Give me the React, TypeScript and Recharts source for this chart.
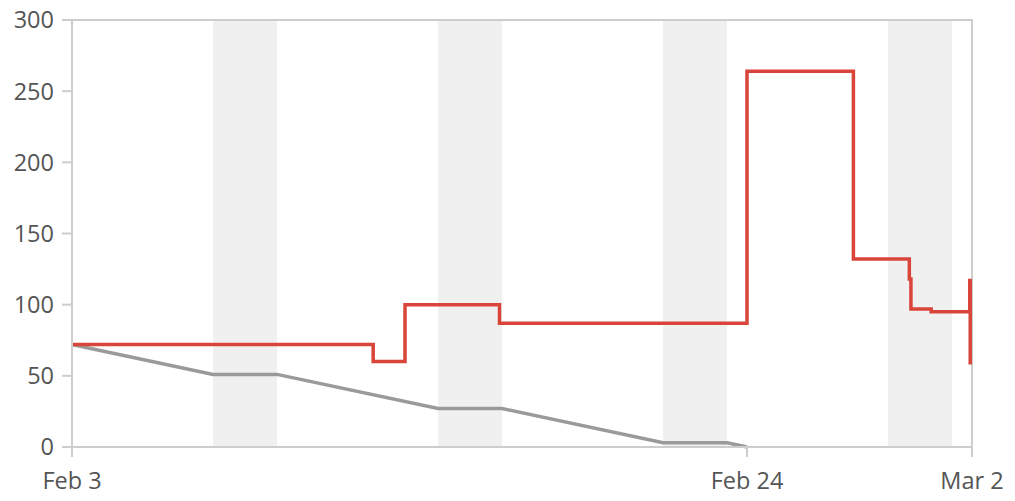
import { LineChart, Line, XAxis, YAxis, ReferenceArea } from "recharts";

// days since Feb 3
const remainingDays = [0, 9.37, 10.36, 13.3, 21.0, 24.31, 26.05, 26.1, 26.73, 27.93, 27.945];
const remainingWork = [72, 60, 100, 87, 264, 132, 118, 97, 95, 117, 58];

const trendDays = [0, 4.39, 6.38, 11.39, 13.38, 18.39, 20.38, 21.0];
const trendWork = [72, 51, 51, 27, 27, 3, 3, 0];

const weekendStart = [4.39, 11.39, 18.39, 25.39];
const weekendEnd = [6.38, 13.38, 20.38, 27.38];

const xTicks = [0, 21, 28];
const xTickLabels = ["Feb 3", "Feb 24", "Mar 2"];
const yTicks = [0, 50, 100, 150, 200, 250, 300];

const remaining = remainingDays.map((d, i) => ({ day: d, value: remainingWork[i] }));
const trend = trendDays.map((d, i) => ({ day: d, value: trendWork[i] }));

const AXIS = "#cdcdcd";
const TEXT = { fill: "#555", fontSize: 23.5, fontFamily: "'Open Sans', sans-serif" };

export default function App() {
  return (
    <div style={{ position: "absolute", left: 0, top: 0, background: "#fff" }}>
      <LineChart width={1015} height={501} margin={{ top: 20, right: 43, bottom: 0, left: 0 }}>
        <XAxis
          dataKey="day"
          type="number"
          domain={[0, 28]}
          ticks={xTicks}
          tickFormatter={(v) => xTickLabels[xTicks.indexOf(v)]}
          allowDuplicatedCategory={false}
          height={54}
          tickSize={10}
          tickMargin={15}
          stroke={AXIS}
          strokeWidth={2}
          tick={TEXT}
        />
        <YAxis
          type="number"
          domain={[0, 300]}
          ticks={yTicks}
          width={72}
          tickSize={10}
          tickMargin={8}
          stroke={AXIS}
          strokeWidth={2}
          tick={TEXT}
        />
        {weekendStart.map((s, i) => (
          <ReferenceArea
            key={i}
            x1={s}
            x2={weekendEnd[i]}
            y1={0}
            y2={300}
            fill="#f0f0f0"
            fillOpacity={1}
            stroke="none"
          />
        ))}
        <ReferenceArea x1={0} x2={28} y1={0} y2={300} fill="none" stroke={AXIS} strokeWidth={2} />
        <Line
          data={trend}
          dataKey="value"
          type="linear"
          stroke="#9a9a9a"
          strokeWidth={3.5}
          dot={false}
          isAnimationActive={false}
        />
        <Line
          data={remaining}
          dataKey="value"
          type="stepAfter"
          stroke="#d9453a"
          strokeWidth={3.5}
          dot={false}
          isAnimationActive={false}
        />
      </LineChart>
    </div>
  );
}
